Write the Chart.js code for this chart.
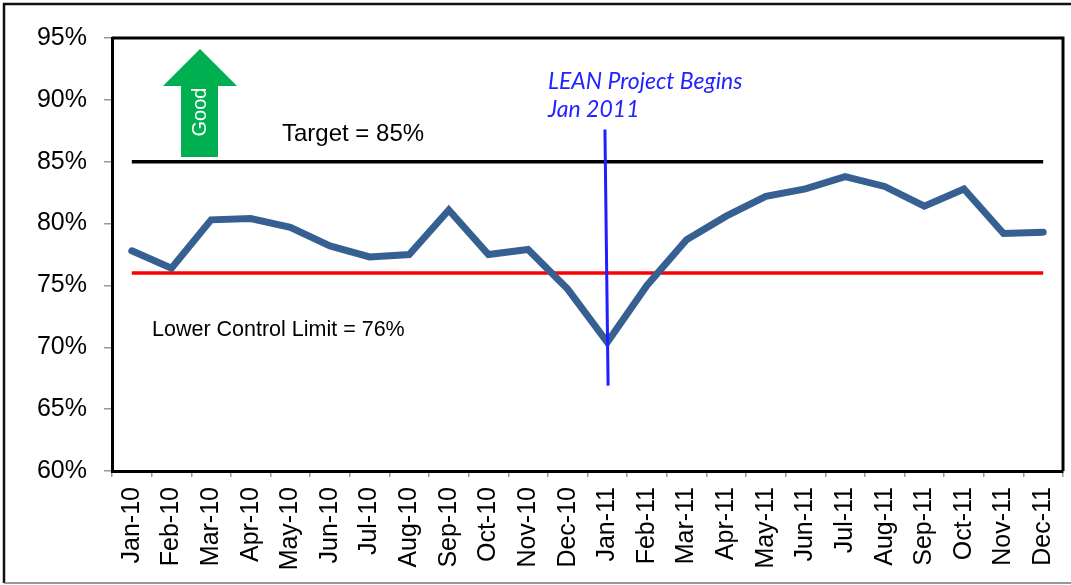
<!DOCTYPE html>
<html>
<head>
<meta charset="utf-8">
<script src="https://cdn.jsdelivr.net/npm/chart.js@4"></script>
<style>
  html, body { margin: 0; padding: 0; background: #fff; }
  #wrap { width: 1071px; height: 585px; position: relative; }
</style>
</head>
<body>
<div id="wrap"><canvas id="leanChart" width="1071" height="585"></canvas></div>
<script>
const months = [
  "Jan-10", "Feb-10", "Mar-10", "Apr-10", "May-10", "Jun-10",
  "Jul-10", "Aug-10", "Sep-10", "Oct-10", "Nov-10", "Dec-10",
  "Jan-11", "Feb-11", "Mar-11", "Apr-11", "May-11", "Jun-11",
  "Jul-11", "Aug-11", "Sep-11", "Oct-11", "Nov-11", "Dec-11",
];
const performance = [
  77.8, 76.4, 80.3, 80.4, 79.7, 78.2, 77.3, 77.5, 81.1, 77.5, 77.9, 74.7,
  70.4, 75.0, 78.7, 80.6, 82.2, 82.8, 83.8, 83.0, 81.4, 82.8, 79.2, 79.3,
];
const targetValue = 85;
const lowerControlLimit = 76;
const yTicks = [60, 65, 70, 75, 80, 85, 90, 95];

// vertical "project begins" marker, in category index / percent
const leanMarker = { topIdx: 11.94, topVal: 87.6, bottomIdx: 12.02, bottomVal: 66.9 };

const fontSans = "'Liberation Sans', Arial, sans-serif";

const annotations = {
  id: "annotations",
  beforeDraw(chart) {
    const ctx = chart.ctx;
    ctx.save();
    ctx.fillStyle = "#fff";
    ctx.fillRect(0, 0, chart.width, chart.height);
    // outer frame (right side is cut off in the original)
    ctx.strokeStyle = "#111";
    ctx.lineWidth = 2.5;
    ctx.beginPath();
    ctx.moveTo(chart.width, 4);
    ctx.lineTo(4, 4);
    ctx.lineTo(4, 583);
    ctx.stroke();
    ctx.strokeStyle = "#777";
    ctx.lineWidth = 1.5;
    ctx.beginPath();
    ctx.moveTo(4, 583);
    ctx.lineTo(chart.width, 583);
    ctx.stroke();
    ctx.restore();
  },
  afterDraw(chart) {
    const ctx = chart.ctx;
    const area = chart.chartArea;
    const x = chart.scales.x;
    const y = chart.scales.y;
    ctx.save();

    // plot frame top + right
    ctx.strokeStyle = "#000";
    ctx.lineWidth = 3;
    ctx.beginPath();
    ctx.moveTo(area.left, area.top);
    ctx.lineTo(area.right, area.top);
    ctx.lineTo(area.right, area.bottom);
    ctx.stroke();

    // green "Good" arrow
    ctx.fillStyle = "#00b050";
    ctx.beginPath();
    ctx.moveTo(200, 49);
    ctx.lineTo(237, 86);
    ctx.lineTo(218, 86);
    ctx.lineTo(218, 157);
    ctx.lineTo(181, 157);
    ctx.lineTo(181, 86);
    ctx.lineTo(163, 86);
    ctx.closePath();
    ctx.fill();
    ctx.save();
    ctx.translate(200, 112);
    ctx.rotate(-Math.PI / 2);
    ctx.fillStyle = "#fff";
    ctx.font = "20px " + fontSans;
    ctx.textAlign = "center";
    ctx.textBaseline = "middle";
    ctx.fillText("Good", 0, 0);
    ctx.restore();

    // labels
    ctx.fillStyle = "#000";
    ctx.textAlign = "left";
    ctx.textBaseline = "middle";
    ctx.font = "24px " + fontSans;
    ctx.fillText("Target = 85%", 282, 134);
    ctx.font = "21.5px " + fontSans;
    ctx.fillText("Lower Control Limit = 76%", 152, 330);

    ctx.fillStyle = "#2323ff";
    ctx.font = "italic 23px Lato, 'Open Sans', sans-serif";
    ctx.fillText("LEAN Project Begins", 548, 82);
    ctx.fillText("Jan 2011", 548, 110);

    // project start marker
    ctx.strokeStyle = "#1f1fff";
    ctx.lineWidth = 3;
    ctx.beginPath();
    ctx.moveTo(x.getPixelForValue(leanMarker.topIdx), y.getPixelForValue(leanMarker.topVal));
    ctx.lineTo(x.getPixelForValue(leanMarker.bottomIdx), y.getPixelForValue(leanMarker.bottomVal));
    ctx.stroke();

    ctx.restore();
  },
};

new Chart(document.getElementById("leanChart"), {
  type: "line",
  data: {
    labels: months,
    datasets: [
      {
        label: "Target",
        data: [
          { x: months[0], y: targetValue },
          { x: months[months.length - 1], y: targetValue },
        ],
        borderColor: "#000",
        borderWidth: 3.5,
        pointRadius: 0,
        order: 3,
      },
      {
        label: "Lower Control Limit",
        data: [
          { x: months[0], y: lowerControlLimit },
          { x: months[months.length - 1], y: lowerControlLimit },
        ],
        borderColor: "#ff0000",
        borderWidth: 3.5,
        pointRadius: 0,
        order: 2,
      },
      {
        label: "Performance",
        data: performance,
        borderColor: "#366092",
        borderWidth: 7,
        borderCapStyle: "round",
        borderJoinStyle: "miter",
        pointRadius: 0,
        tension: 0,
        order: 1,
      },
    ],
  },
  options: {
    responsive: false,
    animation: false,
    layout: { padding: { top: 38, right: 8, left: 0, bottom: 0 } },
    plugins: {
      legend: { display: false },
      tooltip: { enabled: false },
    },
    scales: {
      x: {
        offset: true,
        grid: { offset: true, drawOnChartArea: false, tickLength: 6, color: "#999", lineWidth: 1.5 },
        border: { color: "#000", width: 3 },
        ticks: {
          autoSkip: false,
          maxRotation: 90,
          minRotation: 90,
          padding: 10,
          color: "#000",
          font: { family: fontSans, size: 25 },
        },
        afterFit(scale) {
          scale.height = 114;
          scale.paddingLeft = 0;
          scale.paddingRight = 0;
        },
      },
      y: {
        min: yTicks[0],
        max: yTicks[yTicks.length - 1],
        grid: { drawOnChartArea: false, tickLength: 8, color: "#999", lineWidth: 1.5 },
        border: { color: "#000", width: 3 },
        afterBuildTicks(scale) {
          scale.ticks = yTicks.map((v) => ({ value: v }));
        },
        ticks: {
          padding: 17,
          color: "#000",
          font: { family: fontSans, size: 25 },
          callback: (v) => v + "%",
        },
        afterFit(scale) {
          scale.width = 112;
          scale.paddingTop = 0;
          scale.paddingBottom = 0;
        },
      },
    },
  },
  plugins: [annotations],
});
</script>
</body>
</html>
